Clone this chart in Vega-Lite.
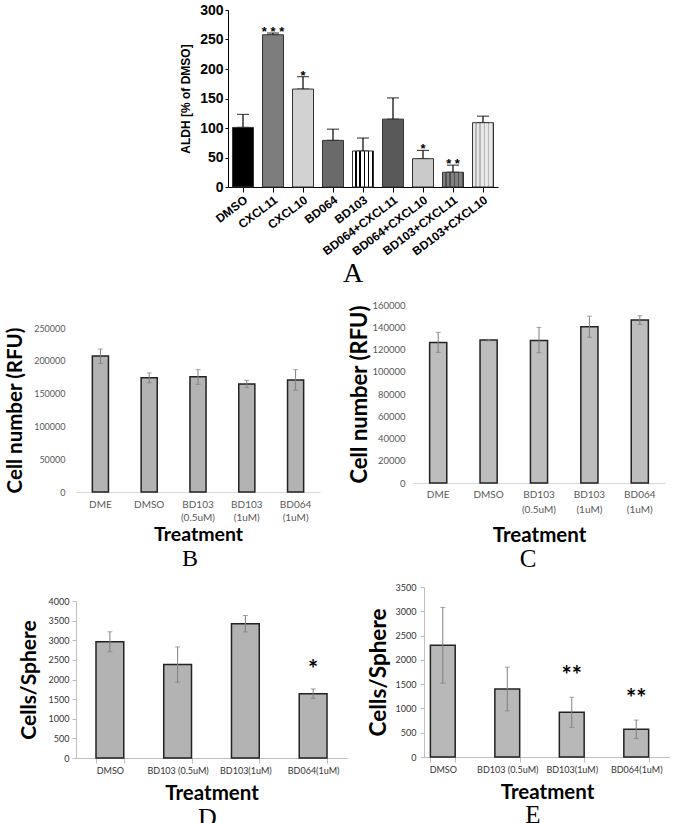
{
  "$schema": "https://vega.github.io/schema/vega-lite/v6.json",
  "padding": {"left": 5, "top": 3, "right": 0, "bottom": 0},
  "background": "white",
  "config": {"view": {"stroke": null}, "axis": {"grid": false, "labelOverlap": false, "labelBound": false}},
  "datasets": {
    "a": [
      {"Treatment": "DMSO", "value": 101, "hi": 123, "sig": ""},
      {"Treatment": "CXCL11", "value": 258, "hi": 261, "sig": "* * *"},
      {"Treatment": "CXCL10", "value": 166, "hi": 187, "sig": "*"},
      {"Treatment": "BD064", "value": 79, "hi": 98, "sig": ""},
      {"Treatment": "BD103", "value": 61, "hi": 83, "sig": ""},
      {"Treatment": "BD064+CXCL11", "value": 115, "hi": 151, "sig": ""},
      {"Treatment": "BD064+CXCL10", "value": 48, "hi": 62, "sig": "*"},
      {"Treatment": "BD103+CXCL11", "value": 25, "hi": 37, "sig": "* *"},
      {"Treatment": "BD103+CXCL10", "value": 109, "hi": 120, "sig": ""}
    ],
    "b": [
      {"Treatment": "DME", "value": 207500, "lo": 196000, "hi": 218000},
      {"Treatment": "DMSO", "value": 174000, "lo": 166500, "hi": 181500},
      {"Treatment": "BD103 (0.5uM)", "value": 175500, "lo": 164000, "hi": 186500},
      {"Treatment": "BD103 (1uM)", "value": 164600, "lo": 159000, "hi": 170200},
      {"Treatment": "BD064 (1uM)", "value": 170700, "lo": 155000, "hi": 186500}
    ],
    "c": [
      {"Treatment": "DME", "value": 126400, "lo": 117400, "hi": 135400},
      {"Treatment": "DMSO", "value": 128500, "lo": 127800, "hi": 129200},
      {"Treatment": "BD103 (0.5uM)", "value": 128200, "lo": 117100, "hi": 139900},
      {"Treatment": "BD103 (1uM)", "value": 140500, "lo": 131000, "hi": 150000},
      {"Treatment": "BD064 (1uM)", "value": 146500, "lo": 142600, "hi": 150400}
    ],
    "d": [
      {"Treatment": "DMSO", "value": 2960, "lo": 2705, "hi": 3215, "sig": ""},
      {"Treatment": "BD103 (0.5uM)", "value": 2380, "lo": 1930, "hi": 2830, "sig": ""},
      {"Treatment": "BD103(1uM)", "value": 3420, "lo": 3210, "hi": 3630, "sig": ""},
      {"Treatment": "BD064(1uM)", "value": 1640, "lo": 1520, "hi": 1760, "sig": "*"}
    ],
    "e": [
      {"Treatment": "DMSO", "value": 2300, "lo": 1520, "hi": 3080, "sig": ""},
      {"Treatment": "BD103 (0.5uM)", "value": 1400, "lo": 950, "hi": 1850, "sig": ""},
      {"Treatment": "BD103(1uM)", "value": 920, "lo": 610, "hi": 1230, "sig": "**"},
      {"Treatment": "BD064(1uM)", "value": 570, "lo": 380, "hi": 760, "sig": "**"}
    ]
  },
  "columns": 1,
  "align": "none",
  "spacing": 11,
  "concat": [
    {
      "spacing": 0,
      "hconcat": [
        {"width": 103, "height": 10, "data": {"values": []}, "mark": "point"},
        {
          "width": 270,
          "height": 177,
          "data": {"name": "a"},
          "title": {"text": "A", "orient": "bottom", "font": "Liberation Serif", "fontSize": 28, "fontWeight": "normal", "color": "#000", "offset": 3, "dx": -10},
          "encoding": {
            "x": {
              "field": "Treatment", "type": "nominal", "sort": null,
              "scale": {"paddingInner": 0.3, "paddingOuter": 0.15},
              "axis": {"title": null, "labelAngle": -37, "labelFont": "Liberation Sans", "labelFontWeight": "bold", "labelFontSize": 12, "labelColor": "#000", "domainColor": "#000", "tickColor": "#000", "tickSize": 5, "labelPadding": 2}
            }
          },
          "layer": [
            {
              "mark": {"type": "errorbar", "ticks": true, "size": 12, "thickness": 1.2, "color": "#000"},
              "encoding": {
                "y": {"field": "value", "type": "quantitative", "title": "ALDH [% of DMSO]", "scale": {"domain": [0, 300], "nice": false},
                  "axis": {"values": [0, 50, 100, 150, 200, 250, 300], "labelOverlap": false, "labelSeparation": -20, "titleFont": "Liberation Sans", "titleFontSize": 12, "titleFontWeight": "bold", "titleColor": "#000", "titlePadding": 7, "labelFont": "Liberation Sans", "labelFontWeight": "bold", "labelFontSize": 14, "labelColor": "#000", "domainColor": "#000", "tickColor": "#000", "tickSize": 3, "labelPadding": 2}},
                "y2": {"field": "hi"}
              }
            },
            {
              "mark": {"type": "bar", "stroke": "#333", "strokeWidth": 1},
              "encoding": {
                "y": {"field": "value", "type": "quantitative", "title": "ALDH [% of DMSO]", "scale": {"domain": [0, 300], "nice": false},
                  "axis": {"values": [0, 50, 100, 150, 200, 250, 300], "labelOverlap": false, "labelSeparation": -20, "titleFont": "Liberation Sans", "titleFontSize": 12, "titleFontWeight": "bold", "titleColor": "#000", "titlePadding": 7, "labelFont": "Liberation Sans", "labelFontWeight": "bold", "labelFontSize": 14, "labelColor": "#000", "domainColor": "#000", "tickColor": "#000", "tickSize": 3, "labelPadding": 2}},
                "fill": {
                  "field": "Treatment", "type": "nominal", "legend": null,
                  "scale": {
                    "domain": ["DMSO", "CXCL11", "CXCL10", "BD064", "BD103", "BD064+CXCL11", "BD064+CXCL10", "BD103+CXCL11", "BD103+CXCL10"],
                    "range": ["#000000", "#7d7d7d", "#d2d2d2", "#6a6a6a", "#ffffff", "#595959", "#cacaca", "#707070", "#cbcbcb"]
                  },
                  "condition": [
                    {"test": "datum.Treatment === 'BD103'", "value": {"gradient": "linear", "x1": 0, "y1": 0, "x2": 1, "y2": 0, "stops": [
                      {"offset": 0, "color": "#ffffff"}, {"offset": 0.13, "color": "#ffffff"}, {"offset": 0.13, "color": "#000000"}, {"offset": 0.2, "color": "#000000"},
                      {"offset": 0.2, "color": "#ffffff"}, {"offset": 0.33, "color": "#ffffff"}, {"offset": 0.33, "color": "#000000"}, {"offset": 0.4, "color": "#000000"},
                      {"offset": 0.4, "color": "#ffffff"}, {"offset": 0.53, "color": "#ffffff"}, {"offset": 0.53, "color": "#000000"}, {"offset": 0.6, "color": "#000000"},
                      {"offset": 0.6, "color": "#ffffff"}, {"offset": 0.73, "color": "#ffffff"}, {"offset": 0.73, "color": "#000000"}, {"offset": 0.8, "color": "#000000"},
                      {"offset": 0.8, "color": "#ffffff"}, {"offset": 0.93, "color": "#ffffff"}, {"offset": 0.93, "color": "#000000"}, {"offset": 1, "color": "#000000"}]}},
                    {"test": "datum.Treatment === 'BD103+CXCL11'", "value": {"gradient": "linear", "x1": 0, "y1": 0, "x2": 1, "y2": 0, "stops": [
                      {"offset": 0, "color": "#808080"}, {"offset": 0.13, "color": "#808080"}, {"offset": 0.13, "color": "#505050"}, {"offset": 0.2, "color": "#505050"},
                      {"offset": 0.2, "color": "#808080"}, {"offset": 0.33, "color": "#808080"}, {"offset": 0.33, "color": "#505050"}, {"offset": 0.4, "color": "#505050"},
                      {"offset": 0.4, "color": "#808080"}, {"offset": 0.53, "color": "#808080"}, {"offset": 0.53, "color": "#505050"}, {"offset": 0.6, "color": "#505050"},
                      {"offset": 0.6, "color": "#808080"}, {"offset": 0.73, "color": "#808080"}, {"offset": 0.73, "color": "#505050"}, {"offset": 0.8, "color": "#505050"},
                      {"offset": 0.8, "color": "#808080"}, {"offset": 0.93, "color": "#808080"}, {"offset": 0.93, "color": "#505050"}, {"offset": 1, "color": "#505050"}]}},
                    {"test": "datum.Treatment === 'BD103+CXCL10'", "value": {"gradient": "linear", "x1": 0, "y1": 0, "x2": 1, "y2": 0, "stops": [
                      {"offset": 0, "color": "#e8e8e8"}, {"offset": 0.13, "color": "#e8e8e8"}, {"offset": 0.13, "color": "#b8b8b8"}, {"offset": 0.2, "color": "#b8b8b8"},
                      {"offset": 0.2, "color": "#e8e8e8"}, {"offset": 0.33, "color": "#e8e8e8"}, {"offset": 0.33, "color": "#b8b8b8"}, {"offset": 0.4, "color": "#b8b8b8"},
                      {"offset": 0.4, "color": "#e8e8e8"}, {"offset": 0.53, "color": "#e8e8e8"}, {"offset": 0.53, "color": "#b8b8b8"}, {"offset": 0.6, "color": "#b8b8b8"},
                      {"offset": 0.6, "color": "#e8e8e8"}, {"offset": 0.73, "color": "#e8e8e8"}, {"offset": 0.73, "color": "#b8b8b8"}, {"offset": 0.8, "color": "#b8b8b8"},
                      {"offset": 0.8, "color": "#e8e8e8"}, {"offset": 0.93, "color": "#e8e8e8"}, {"offset": 0.93, "color": "#b8b8b8"}, {"offset": 1, "color": "#b8b8b8"}]}}
                  ]
                }
              }
            },
            {
              "transform": [{"filter": "datum.sig != ''"}],
              "mark": {"type": "text", "font": "Liberation Sans", "fontSize": 13, "fontWeight": "bold", "baseline": "alphabetic", "dy": 3, "color": "#000"},
              "encoding": {
                "y": {"field": "hi", "type": "quantitative", "title": "ALDH [% of DMSO]", "scale": {"domain": [0, 300], "nice": false},
                  "axis": {"values": [0, 50, 100, 150, 200, 250, 300], "labelOverlap": false, "labelSeparation": -20, "titleFont": "Liberation Sans", "titleFontSize": 12, "titleFontWeight": "bold", "titleColor": "#000", "titlePadding": 7, "labelFont": "Liberation Sans", "labelFontWeight": "bold", "labelFontSize": 14, "labelColor": "#000", "domainColor": "#000", "tickColor": "#000", "tickSize": 3, "labelPadding": 2}},
                "text": {"field": "sig"}
              }
            }
          ]
        }
      ]
    },
    {
      "spacing": 28,
      "hconcat": [
        {
          "spacing": 0,
          "vconcat": [
            {"width": 10, "height": 19, "data": {"values": []}, "mark": "point"},
            {
              "width": 244,
              "height": 164,
              "data": {"name": "b"},
              "title": {"text": "B", "orient": "bottom", "font": "Liberation Serif", "fontSize": 24, "fontWeight": "normal", "color": "#000", "offset": 3, "dx": -8},
              "encoding": {
                "x": {
                  "field": "Treatment", "type": "nominal", "sort": null,
                  "scale": {"paddingInner": 0.67, "paddingOuter": 0.335},
                  "axis": {"title": "Treatment", "labelExpr": "split(datum.label, ' ')", "labelAngle": 0, "labelFont": "Lato", "labelFontSize": 10, "labelColor": "#595959", "labelLineHeight": 13, "labelPadding": 7, "ticks": false, "domainColor": "#d9d9d9", "titleFont": "Lato", "titleFontSize": 19.5, "titleFontWeight": "bold", "titleColor": "#000", "titlePadding": 3}
                }
              },
              "layer": [
                {
                  "mark": {"type": "bar", "fill": "#b3b3b3", "stroke": "#222", "strokeWidth": 1.5},
                  "encoding": {
                    "y": {"field": "value", "type": "quantitative", "title": "Cell number (RFU)", "scale": {"domain": [0, 250000], "nice": false},
                      "axis": {"values": [0, 50000, 100000, 150000, 200000, 250000], "labelOverlap": false, "labelSeparation": -20, "format": "d", "domain": false, "ticks": false, "labelFont": "Lato", "labelFontSize": 9, "labelColor": "#595959", "labelPadding": 11, "titleFont": "Lato", "titleFontSize": 20.5, "titleFontWeight": "bold", "titleColor": "#000", "titlePadding": 8}}
                  }
                },
                {
                  "mark": {"type": "errorbar", "ticks": true, "size": 5, "thickness": 1, "color": "#7f7f7f"},
                  "encoding": {
                    "y": {"field": "lo", "type": "quantitative", "title": "Cell number (RFU)", "scale": {"domain": [0, 250000], "nice": false},
                      "axis": {"values": [0, 50000, 100000, 150000, 200000, 250000], "labelOverlap": false, "labelSeparation": -20, "format": "d", "domain": false, "ticks": false, "labelFont": "Lato", "labelFontSize": 9, "labelColor": "#595959", "labelPadding": 11, "titleFont": "Lato", "titleFontSize": 20.5, "titleFontWeight": "bold", "titleColor": "#000", "titlePadding": 8}},
                    "y2": {"field": "hi"}
                  }
                }
              ]
            }
          ]
        },
        {
          "width": 252,
          "height": 178,
          "data": {"name": "c"},
          "title": {"text": "C", "orient": "bottom", "font": "Liberation Serif", "fontSize": 25, "fontWeight": "normal", "color": "#000", "offset": 1, "dx": -11},
          "encoding": {
            "x": {
              "field": "Treatment", "type": "nominal", "sort": null,
              "scale": {"paddingInner": 0.66, "paddingOuter": 0.33},
              "axis": {"title": "Treatment", "labelExpr": "split(datum.label, ' ')", "labelAngle": 0, "labelFont": "Lato", "labelFontSize": 10, "labelColor": "#595959", "labelLineHeight": 15, "labelPadding": 6, "ticks": false, "domainColor": "#d9d9d9", "titleFont": "Lato", "titleFontSize": 20.5, "titleFontWeight": "bold", "titleColor": "#000", "titlePadding": 11}
            }
          },
          "layer": [
            {
              "mark": {"type": "bar", "fill": "#bdbdbd", "stroke": "#222", "strokeWidth": 1.5},
              "encoding": {
                "y": {"field": "value", "type": "quantitative", "title": "Cell number (RFU)", "scale": {"domain": [0, 160000], "nice": false},
                  "axis": {"values": [0, 20000, 40000, 60000, 80000, 100000, 120000, 140000, 160000], "labelOverlap": false, "labelSeparation": -20, "format": "d", "domain": false, "ticks": false, "labelFont": "Lato", "labelFontSize": 9.5, "labelColor": "#595959", "labelPadding": 8, "titleFont": "Lato", "titleFontSize": 22, "titleFontWeight": "bold", "titleColor": "#000", "titlePadding": 0}}
              }
            },
            {
              "mark": {"type": "errorbar", "ticks": true, "size": 5, "thickness": 1, "color": "#7f7f7f"},
              "encoding": {
                "y": {"field": "lo", "type": "quantitative", "title": "Cell number (RFU)", "scale": {"domain": [0, 160000], "nice": false},
                  "axis": {"values": [0, 20000, 40000, 60000, 80000, 100000, 120000, 140000, 160000], "labelOverlap": false, "labelSeparation": -20, "format": "d", "domain": false, "ticks": false, "labelFont": "Lato", "labelFontSize": 9.5, "labelColor": "#595959", "labelPadding": 8, "titleFont": "Lato", "titleFontSize": 22, "titleFontWeight": "bold", "titleColor": "#000", "titlePadding": 0}},
                "y2": {"field": "hi"}
              }
            }
          ]
        }
      ]
    },
    {
      "spacing": 20,
      "hconcat": [
        {
          "spacing": 0,
          "vconcat": [
            {"width": 10, "height": 10, "data": {"values": []}, "mark": "point"},
            {
              "width": 271,
              "height": 157,
              "data": {"name": "d"},
              "title": {"text": "D", "orient": "bottom", "font": "Liberation Serif", "fontSize": 26, "fontWeight": "normal", "color": "#000", "offset": 1, "dx": -4},
              "encoding": {
                "x": {
                  "field": "Treatment", "type": "nominal", "sort": null,
                  "scale": {"paddingInner": 0.59, "paddingOuter": 0.295},
                  "axis": {"title": "Treatment", "labelAngle": 0, "labelFont": "Lato", "labelFontSize": 9, "labelColor": "#333", "labelPadding": 3, "tickBand": "extent", "tickSize": 5, "tickColor": "#bfbfbf", "domainColor": "#bfbfbf", "titleFont": "Lato", "titleFontSize": 20.5, "titleFontWeight": "bold", "titleColor": "#000", "titlePadding": 8}
                }
              },
              "layer": [
                {
                  "mark": {"type": "bar", "fill": "#b3b3b3", "stroke": "#222", "strokeWidth": 1.5},
                  "encoding": {
                    "y": {"field": "value", "type": "quantitative", "title": "Cells/Sphere", "scale": {"domain": [0, 4000], "nice": false},
                      "axis": {"values": [0, 500, 1000, 1500, 2000, 2500, 3000, 3500, 4000], "labelOverlap": false, "labelSeparation": -20, "format": "d", "domainColor": "#bfbfbf", "tickColor": "#bfbfbf", "tickSize": 4, "labelFont": "Lato", "labelFontSize": 9, "labelColor": "#333", "labelPadding": 3, "titleFont": "Lato", "titleFontSize": 21, "titleFontWeight": "bold", "titleColor": "#000", "titlePadding": 9}}
                  }
                },
                {
                  "mark": {"type": "errorbar", "ticks": true, "size": 5, "thickness": 1, "color": "#7f7f7f"},
                  "encoding": {
                    "y": {"field": "lo", "type": "quantitative", "title": "Cells/Sphere", "scale": {"domain": [0, 4000], "nice": false},
                      "axis": {"values": [0, 500, 1000, 1500, 2000, 2500, 3000, 3500, 4000], "labelOverlap": false, "labelSeparation": -20, "format": "d", "domainColor": "#bfbfbf", "tickColor": "#bfbfbf", "tickSize": 4, "labelFont": "Lato", "labelFontSize": 9, "labelColor": "#333", "labelPadding": 3, "titleFont": "Lato", "titleFontSize": 21, "titleFontWeight": "bold", "titleColor": "#000", "titlePadding": 9}},
                    "y2": {"field": "hi"}
                  }
                },
                {
                  "transform": [{"filter": "datum.sig != ''"}],
                  "mark": {"type": "text", "font": "Lato", "fontSize": 24, "fontWeight": "bold", "baseline": "alphabetic", "dy": -11, "color": "#000"},
                  "encoding": {
                    "y": {"field": "hi", "type": "quantitative", "title": "Cells/Sphere", "scale": {"domain": [0, 4000], "nice": false},
                      "axis": {"values": [0, 500, 1000, 1500, 2000, 2500, 3000, 3500, 4000], "labelOverlap": false, "labelSeparation": -20, "format": "d", "domainColor": "#bfbfbf", "tickColor": "#bfbfbf", "tickSize": 4, "labelFont": "Lato", "labelFontSize": 9, "labelColor": "#333", "labelPadding": 3, "titleFont": "Lato", "titleFontSize": 21, "titleFontWeight": "bold", "titleColor": "#000", "titlePadding": 9}},
                    "text": {"field": "sig"}
                  }
                }
              ]
            }
          ]
        },
        {
          "width": 246,
          "height": 170,
          "data": {"name": "e"},
          "title": {"text": "E", "orient": "bottom", "font": "Liberation Serif", "fontSize": 25, "fontWeight": "normal", "color": "#000", "offset": 0, "dx": -14},
          "encoding": {
            "x": {
              "field": "Treatment", "type": "nominal", "sort": null,
              "scale": {"paddingInner": 0.615, "paddingOuter": 0.215, "align": 0.23},
              "axis": {"title": "Treatment", "labelAngle": 0, "labelFont": "Lato", "labelFontSize": 9, "labelColor": "#333", "labelPadding": 3, "tickBand": "extent", "tickSize": 5, "tickColor": "#bfbfbf", "domainColor": "#bfbfbf", "titleFont": "Lato", "titleFontSize": 20.5, "titleFontWeight": "bold", "titleColor": "#000", "titlePadding": 8}
            }
          },
          "layer": [
            {
              "mark": {"type": "bar", "fill": "#b8b8b8", "stroke": "#222", "strokeWidth": 1.5},
              "encoding": {
                "y": {"field": "value", "type": "quantitative", "title": "Cells/Sphere", "scale": {"domain": [0, 3500], "nice": false},
                  "axis": {"values": [0, 500, 1000, 1500, 2000, 2500, 3000, 3500], "labelOverlap": false, "labelSeparation": -20, "format": "d", "domainColor": "#bfbfbf", "tickColor": "#bfbfbf", "tickSize": 4, "labelFont": "Lato", "labelFontSize": 9, "labelColor": "#333", "labelPadding": 4, "titleFont": "Lato", "titleFontSize": 22.5, "titleFontWeight": "bold", "titleColor": "#000", "titlePadding": 5}}
              }
            },
            {
              "mark": {"type": "errorbar", "ticks": true, "size": 5, "thickness": 1, "color": "#7f7f7f"},
              "encoding": {
                "y": {"field": "lo", "type": "quantitative", "title": "Cells/Sphere", "scale": {"domain": [0, 3500], "nice": false},
                  "axis": {"values": [0, 500, 1000, 1500, 2000, 2500, 3000, 3500], "labelOverlap": false, "labelSeparation": -20, "format": "d", "domainColor": "#bfbfbf", "tickColor": "#bfbfbf", "tickSize": 4, "labelFont": "Lato", "labelFontSize": 9, "labelColor": "#333", "labelPadding": 4, "titleFont": "Lato", "titleFontSize": 22.5, "titleFontWeight": "bold", "titleColor": "#000", "titlePadding": 5}},
                "y2": {"field": "hi"}
              }
            },
            {
              "transform": [{"filter": "datum.sig != ''"}],
              "mark": {"type": "text", "font": "Lato", "fontSize": 24, "fontWeight": "bold", "baseline": "alphabetic", "dy": -13, "color": "#000"},
              "encoding": {
                "y": {"field": "hi", "type": "quantitative", "title": "Cells/Sphere", "scale": {"domain": [0, 3500], "nice": false},
                  "axis": {"values": [0, 500, 1000, 1500, 2000, 2500, 3000, 3500], "labelOverlap": false, "labelSeparation": -20, "format": "d", "domainColor": "#bfbfbf", "tickColor": "#bfbfbf", "tickSize": 4, "labelFont": "Lato", "labelFontSize": 9, "labelColor": "#333", "labelPadding": 4, "titleFont": "Lato", "titleFontSize": 22.5, "titleFontWeight": "bold", "titleColor": "#000", "titlePadding": 5}},
                "text": {"field": "sig"}
              }
            }
          ]
        }
      ]
    }
  ]
}
